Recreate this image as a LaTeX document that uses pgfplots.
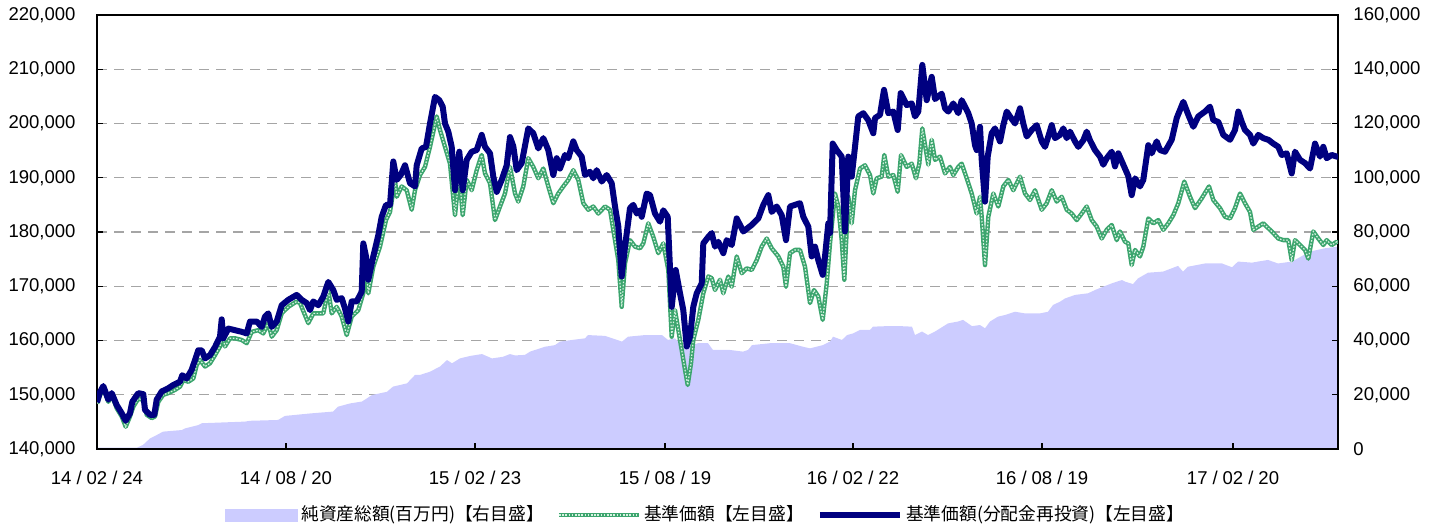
\documentclass[border=0pt]{standalone}
\usepackage{pgfplots}
\pgfplotsset{compat=1.18}
\usepackage{pgfplotstable}
\usepackage{fontspec}
\setmainfont{Liberation Sans}
\newfontfamily\cjk{Noto Sans CJK JP}
\definecolor{navyb}{RGB}{0,0,128}
\definecolor{lav}{RGB}{204,204,255}
\definecolor{grn}{RGB}{60,165,110}
\definecolor{grnin}{RGB}{215,242,225}
\definecolor{gridc}{RGB}{165,165,165}
\newcommand\dl[3]{#1\kern2.5bp/\kern2.5bp#2\kern2.5bp/\kern2.5bp#3}

% x = trading-chart position (ticks at 0,189,378,568,756,945,1136), values in thousand yen
\pgfplotstableread[row sep=\\]{
x v\\
0 148.6\\ 3 150.5\\ 6.3 151.6\\ 11.3 149.1\\ 14.7 150.3\\ 19.7 148.1\\ 24.7 146.6\\ 28.7 145.2\\ 33 146.6\\ 35.3 148.7\\ 41.3 150.3\\ 46.3 150.1\\ 48 147.2\\ 53 146.3\\ 57.3 146.3\\ 59.7 149.1\\ 64.7 150.6\\ 71.3 151.2\\ 76.3 151.8\\ 83 152.4\\ 85.3 153.6\\ 89.7 153.0\\ 94.7 154.6\\ 98 156.4\\ 101.3 158.2\\ 104.7 158.2\\ 108 156.7\\ 113 157.3\\ 118 158.8\\ 123 160.7\\ 124.7 163.9\\ 126.3 160.4\\ 131.3 162.2\\ 138 161.9\\ 144.7 161.6\\ 149.7 161.3\\ 153 163.5\\ 159.7 163.5\\ 164.7 162.5\\ 168 164.4\\ 171.3 165.0\\ 174.7 162.5\\ 179.7 163.5\\ 184.7 166.5\\ 191.3 167.5\\ 199.7 168.4\\ 204.7 167.5\\ 209.7 166.9\\ 213 165.6\\ 216.3 167.2\\ 221.3 166.5\\ 226.3 168.1\\ 231.3 170.8\\ 236.3 169.3\\ 239.7 167.5\\ 244.7 167.8\\ 248 165.9\\ 251.3 163.5\\ 254.7 167.2\\ 259.7 167.2\\ 264.7 169.0\\ 266.3 177.9\\ 269 175.5\\ 271.3 171.2\\ 276.3 175.5\\ 281.3 179.4\\ 284.7 182.8\\ 289 185.0\\ 293 185.0\\ 296.3 193.0\\ 299.7 189.6\\ 303.7 190.5\\ 308 192.3\\ 313 189.0\\ 318 188.4\\ 319.7 192.3\\ 324.7 195.4\\ 329 195.7\\ 333 200.0\\ 338 204.9\\ 342.3 204.3\\ 345.7 203.1\\ 348 200.0\\ 351.3 198.5\\ 354.7 195.7\\ 358 187.7\\ 362.3 194.8\\ 365.7 187.7\\ 369.7 193.3\\ 374.7 194.8\\ 379.7 195.1\\ 384.7 197.9\\ 388 195.7\\ 393 194.5\\ 396.3 190.2\\ 399.7 187.4\\ 404.7 189.6\\ 409.7 192.3\\ 413 197.5\\ 416.3 195.8\\ 419.7 191.4\\ 424.7 192.7\\ 431.3 199.1\\ 436.3 198.2\\ 441.3 195.4\\ 446.3 197.3\\ 451.3 195.1\\ 456.3 190.5\\ 459.7 193.6\\ 463 191.7\\ 468 194.2\\ 471.3 193.6\\ 476.3 196.7\\ 479.7 195.1\\ 484.7 193.9\\ 488 190.5\\ 493 191.1\\ 496.3 189.9\\ 499.7 191.4\\ 504.7 189.3\\ 509.7 190.5\\ 514.7 189.0\\ 518 184.7\\ 521.3 181.0\\ 524.7 171.8\\ 528 177.3\\ 533 184.4\\ 536.3 185.0\\ 539.7 183.4\\ 543 184.0\\ 544.7 182.8\\ 549.7 187.1\\ 553 186.8\\ 558 183.4\\ 563 181.9\\ 566.3 184.0\\ 570.7 182.8\\ 574.7 166.2\\ 578.7 173.0\\ 583 168.7\\ 586.3 165.6\\ 589.7 158.9\\ 593 160.7\\ 596.3 166.2\\ 599.7 168.7\\ 604.7 170.5\\ 606.3 177.9\\ 611.3 179.1\\ 614.7 179.8\\ 618 177.3\\ 621.3 178.2\\ 626.3 176.1\\ 629.7 178.5\\ 634.7 177.6\\ 639.7 182.5\\ 646.3 180.1\\ 654.7 181.3\\ 661.3 182.5\\ 666.3 185.0\\ 671.3 186.8\\ 674.7 183.7\\ 679.7 184.7\\ 684.7 183.1\\ 689 178.5\\ 693 184.7\\ 698 185.0\\ 703 185.3\\ 706.3 182.8\\ 711.3 181.0\\ 714.7 175.5\\ 718 177.3\\ 721.3 174.8\\ 725.7 172.1\\ 728 175.5\\ 731.3 181.6\\ 733 179.8\\ 735.7 196.3\\ 739.7 195.1\\ 744.7 193.9\\ 748 180.1\\ 751.3 193.9\\ 754.7 190.2\\ 758 195.7\\ 761.3 201.3\\ 766.3 201.9\\ 771.3 200.6\\ 776.3 198.2\\ 778 201.0\\ 783 201.6\\ 787 206.2\\ 791.3 201.9\\ 796.3 202.2\\ 800.7 198.8\\ 803.7 205.6\\ 809.7 203.4\\ 814.7 203.7\\ 818 201.3\\ 821.3 202.2\\ 825.3 210.8\\ 829.7 204.3\\ 834.7 208.6\\ 838 204.5\\ 844.7 205.5\\ 848 202.8\\ 851.3 202.2\\ 856.3 203.7\\ 861.3 201.9\\ 864.7 204.3\\ 871.3 201.9\\ 874.7 200.0\\ 878 196.0\\ 879.7 195.1\\ 883 199.4\\ 884.7 193.3\\ 888 185.6\\ 890.7 193.9\\ 894.7 198.2\\ 898 199.1\\ 903 196.7\\ 906.3 199.7\\ 909.7 202.2\\ 913 201.3\\ 918 200.0\\ 923 202.8\\ 926.3 200.0\\ 929.7 197.6\\ 934.7 198.8\\ 939.7 199.7\\ 944.7 196.7\\ 948 195.7\\ 951.3 197.6\\ 954.7 199.7\\ 958 197.3\\ 963 197.9\\ 966.3 199.1\\ 969.7 197.3\\ 973 198.5\\ 978 196.7\\ 981.3 195.7\\ 986.3 196.9\\ 989.7 198.5\\ 993 196.9\\ 998 195.1\\ 1003 193.9\\ 1006.3 192.4\\ 1009.7 193.6\\ 1014.7 194.8\\ 1018 192.1\\ 1021.3 194.5\\ 1026.3 192.4\\ 1031.3 190.3\\ 1034.7 186.8\\ 1038 189.9\\ 1043 188.4\\ 1046.3 189.6\\ 1051.3 196.0\\ 1054.7 194.5\\ 1059.7 196.7\\ 1063 195.1\\ 1068 194.8\\ 1074.7 197.0\\ 1079.7 201.0\\ 1086.3 204.0\\ 1091.3 201.6\\ 1096.3 199.4\\ 1101.3 201.3\\ 1108 202.2\\ 1113 203.1\\ 1116.3 200.6\\ 1121.3 200.3\\ 1126.3 197.9\\ 1133 197.0\\ 1138 198.8\\ 1141.3 202.2\\ 1144.7 200.3\\ 1148 198.8\\ 1153 197.9\\ 1156.3 196.3\\ 1161.3 197.9\\ 1166.3 197.3\\ 1171.3 197.0\\ 1176.3 196.3\\ 1181.3 195.7\\ 1184.7 194.2\\ 1189.7 194.5\\ 1194.7 190.8\\ 1198 194.8\\ 1203 193.3\\ 1208 192.7\\ 1213 191.7\\ 1218 196.3\\ 1223 193.9\\ 1226.3 195.7\\ 1229.7 193.6\\ 1234.7 194.2\\ 1239.7 193.9\\ 1241 193.9\\
}\bluedata

\pgfplotstableread[row sep=\\]{
x v\\
0 148.4\\ 6.3 151.5\\ 11.3 148.7\\ 14.7 150.0\\ 19.7 147.5\\ 24.7 146.0\\ 28.7 144.1\\ 33 146.0\\ 36.3 147.8\\ 41.3 149.3\\ 46.3 149.0\\ 49.7 146.3\\ 54.7 145.7\\ 58 146.0\\ 61.3 148.7\\ 66.3 150.0\\ 71.3 150.3\\ 78 150.9\\ 83 151.5\\ 86.3 152.7\\ 91.3 152.4\\ 96.3 153.0\\ 99.7 155.5\\ 103 156.4\\ 108 155.2\\ 113 155.8\\ 118 157.3\\ 123 158.9\\ 125.3 161.0\\ 128 158.9\\ 133 160.4\\ 138 160.4\\ 144.7 160.1\\ 149.7 159.5\\ 154.7 161.6\\ 161.3 161.9\\ 166.3 161.3\\ 171.3 163.2\\ 174.7 160.7\\ 179.7 161.9\\ 184.7 165.0\\ 191.3 166.2\\ 199.7 167.2\\ 203 166.9\\ 211.3 163.2\\ 216.3 165.0\\ 226.3 165.0\\ 231.3 169.3\\ 234.7 165.0\\ 239.7 166.2\\ 244.7 164.4\\ 249.7 161.0\\ 254.7 164.4\\ 261.3 165.6\\ 266.3 168.7\\ 269 173.6\\ 271.3 168.7\\ 276.3 173.6\\ 283 177.3\\ 289 182.2\\ 293 183.7\\ 298 189.6\\ 299.7 186.5\\ 304.7 188.4\\ 309.7 187.7\\ 314.7 184.1\\ 318 187.7\\ 323 190.5\\ 328 192.0\\ 333 195.7\\ 339.7 201.3\\ 343 198.8\\ 348 195.7\\ 353 192.6\\ 358 183.1\\ 362.3 190.8\\ 365.7 183.1\\ 369.7 189.6\\ 374.7 187.7\\ 379.7 191.4\\ 384.7 194.2\\ 388 190.8\\ 393 189.0\\ 398 182.2\\ 403 184.7\\ 408 187.1\\ 413 192.0\\ 418 187.1\\ 421.3 185.6\\ 426.3 188.4\\ 431.3 193.6\\ 436.3 192.0\\ 441.3 189.9\\ 446.3 191.7\\ 451.3 188.4\\ 456.3 185.3\\ 461.3 187.1\\ 466.3 188.4\\ 471.3 189.6\\ 476.3 191.4\\ 481.3 189.6\\ 486.3 185.3\\ 491.3 184.1\\ 496.3 184.7\\ 501.3 183.4\\ 508 184.7\\ 513 184.1\\ 516.3 180.4\\ 521.3 174.8\\ 524.7 166.2\\ 528 174.2\\ 533 178.5\\ 538 177.3\\ 543 177.0\\ 546.3 177.9\\ 551.3 181.6\\ 556.3 179.1\\ 561.3 176.1\\ 566.3 177.9\\ 571.3 173.0\\ 574.7 160.7\\ 578 165.6\\ 583 160.1\\ 588 154.6\\ 590.7 151.8\\ 594 155.8\\ 596.3 160.1\\ 601.3 163.8\\ 606.3 168.7\\ 611.3 171.8\\ 614.7 171.5\\ 618 169.3\\ 623 171.2\\ 626.3 168.7\\ 631.3 171.8\\ 634.7 169.9\\ 639.7 175.5\\ 644.7 172.4\\ 649.7 173.3\\ 654.7 173.0\\ 659.7 174.8\\ 664.7 177.3\\ 669.7 178.8\\ 674.7 177.0\\ 681.3 175.5\\ 686.3 173.6\\ 689 169.9\\ 693 176.1\\ 698 176.7\\ 703 176.7\\ 708 173.6\\ 713 166.9\\ 717 169.3\\ 721.3 168.1\\ 725.7 163.8\\ 729.7 170.5\\ 733 177.9\\ 738 187.1\\ 741.3 184.7\\ 744.7 178.5\\ 747.3 171.2\\ 751.3 186.5\\ 754.7 181.6\\ 758 187.7\\ 763 191.7\\ 768 192.3\\ 773 190.5\\ 776.3 187.1\\ 779.7 189.9\\ 784.7 190.2\\ 787.3 194.2\\ 791.3 190.2\\ 796.3 190.5\\ 800.7 187.4\\ 804 194.2\\ 809.7 192.0\\ 814.7 192.6\\ 819 189.9\\ 822.3 192.6\\ 825.3 199.1\\ 831.3 192.4\\ 834.7 197.0\\ 838 193.3\\ 843 193.9\\ 848 190.8\\ 853 192.0\\ 856.3 190.5\\ 861.3 192.0\\ 864.7 192.6\\ 869.7 189.9\\ 874.7 187.1\\ 879.7 183.4\\ 883 186.5\\ 884.7 182.8\\ 888 173.9\\ 891.3 182.8\\ 896.3 187.1\\ 901.3 184.7\\ 906.3 188.4\\ 911.3 189.6\\ 916.3 187.7\\ 923 190.2\\ 928 187.1\\ 933 185.9\\ 938 187.7\\ 944.7 184.1\\ 949.7 185.3\\ 954.7 187.7\\ 959.7 185.6\\ 964.7 186.5\\ 969.7 184.1\\ 974.7 183.4\\ 979.7 182.2\\ 984.7 183.4\\ 989.7 184.7\\ 994.7 182.2\\ 999.7 181.0\\ 1004.7 178.8\\ 1009.7 180.4\\ 1014.7 181.3\\ 1019.7 178.5\\ 1023 180.1\\ 1028 178.2\\ 1031.3 177.9\\ 1034.7 173.9\\ 1038 176.7\\ 1043 175.5\\ 1046.3 177.3\\ 1051.3 182.5\\ 1056.3 181.6\\ 1061.3 182.2\\ 1066.3 180.4\\ 1071.3 181.6\\ 1076.3 183.1\\ 1081.3 185.3\\ 1087.3 189.3\\ 1093 186.5\\ 1098 184.4\\ 1104.7 186.2\\ 1112 188.4\\ 1116.3 185.9\\ 1123 184.4\\ 1128 182.8\\ 1133 182.5\\ 1138 184.4\\ 1143 187.1\\ 1148 185.3\\ 1153 183.7\\ 1156.3 180.4\\ 1161.3 181.0\\ 1166.3 181.6\\ 1171.3 180.7\\ 1176.3 179.8\\ 1181.3 178.8\\ 1186.3 178.5\\ 1191.3 178.5\\ 1194.7 174.8\\ 1198 178.5\\ 1203 177.6\\ 1208 176.7\\ 1211.3 175.1\\ 1216.3 180.1\\ 1221.3 178.8\\ 1226.3 177.6\\ 1229.7 178.5\\ 1234.7 177.6\\ 1239.7 178.2\\ 1241 177.9\\
}\greendata

\pgfplotstableread[row sep=\\]{
x v\\
0 0.5\\ 40 0.5\\ 46 1.5\\ 53 3.9\\ 60 5.2\\ 66 6.4\\ 85 7.0\\ 88 7.6\\ 101 8.8\\ 105 9.5\\ 148 10.1\\ 153 10.4\\ 181 10.7\\ 188 12.2\\ 213 13.1\\ 236 13.8\\ 241 15.6\\ 253 16.8\\ 265 17.5\\ 275 19.9\\ 290 21.1\\ 296 23.0\\ 310 24.2\\ 318 27.3\\ 323 27.3\\ 333 28.5\\ 343 30.4\\ 350 32.8\\ 355 31.6\\ 363 33.4\\ 373 34.3\\ 385 35.0\\ 395 33.4\\ 406 34.0\\ 413 35.0\\ 418 34.5\\ 428 34.7\\ 433 35.9\\ 448 37.7\\ 458 38.3\\ 463 39.6\\ 475 40.2\\ 488 40.8\\ 491 42.0\\ 508 41.7\\ 525 39.6\\ 531 41.4\\ 548 42.0\\ 565 42.0\\ 571 40.2\\ 578 40.8\\ 585 38.3\\ 591 37.7\\ 601 39.0\\ 611 39.0\\ 616 36.5\\ 633 36.5\\ 646 35.9\\ 651 36.5\\ 655 38.3\\ 673 39.0\\ 693 39.0\\ 706 37.7\\ 713 37.1\\ 726 38.3\\ 733 39.6\\ 736 41.4\\ 745 40.2\\ 750 42.0\\ 756 42.6\\ 763 43.9\\ 773 43.9\\ 776 45.1\\ 790 45.3\\ 803 45.3\\ 815 45.1\\ 818 42.0\\ 825 43.3\\ 831 42.0\\ 838 43.3\\ 851 46.3\\ 861 47.0\\ 866 47.6\\ 875 45.3\\ 883 45.7\\ 888 44.5\\ 893 47.0\\ 901 48.8\\ 908 49.4\\ 918 50.6\\ 928 50.0\\ 943 50.0\\ 951 50.6\\ 956 53.1\\ 963 54.3\\ 968 55.5\\ 978 56.8\\ 991 57.4\\ 998 58.6\\ 1006 59.8\\ 1015 61.1\\ 1025 62.3\\ 1028 61.7\\ 1036 60.8\\ 1041 62.9\\ 1051 65.0\\ 1066 65.4\\ 1081 67.5\\ 1086 65.4\\ 1091 67.2\\ 1108 68.4\\ 1125 68.4\\ 1135 67.0\\ 1141 69.1\\ 1155 68.7\\ 1161 69.1\\ 1171 69.7\\ 1181 68.4\\ 1195 69.1\\ 1213 72.8\\ 1228 74.0\\ 1241 74.6\\
}\areadata

\begin{document}
\begin{tikzpicture}
\path[use as bounding box] (-48.5bp,-39.5bp) rectangle (669bp,224.5bp);
% background axis: grid, area, right-hand labels
\begin{axis}[
  scale only axis, width=620.5bp, height=217bp,
  xmin=0, xmax=1241, ymin=0, ymax=160,
  xtick=\empty,
  ytick={0,20,40,60,80,100,120,140,160},
  yticklabels={0,{20,000},{40,000},{60,000},{80,000},{100,000},{120,000},{140,000},{160,000}},
  ytick pos=right, yticklabel pos=right,
  major tick length=0pt,
  axis line style={draw=none},
  ymajorgrids,
  grid style={gridc, line width=0.7bp, dash pattern=on 5bp off 3.5bp},
  yticklabel style={font=\fontsize{9.3}{11}\selectfont, xshift=4.2bp},
]
\addplot[fill=lav, draw=none] table[x=x,y=v]{\areadata} \closedcycle;
\end{axis}
% foreground axis: lines, box, left labels
\begin{axis}[
  scale only axis, width=620.5bp, height=217bp,
  xmin=0, xmax=1241, ymin=140, ymax=220,
  ytick={140,150,160,170,180,190,200,210,220},
  yticklabels={{140,000},{150,000},{160,000},{170,000},{180,000},{190,000},{200,000},{210,000},{220,000}},
  ytick pos=both, yticklabel pos=left,
  xtick={0,189,378,568,756,945,1136},
  xticklabels={\dl{14}{02}{24},\dl{14}{08}{20},\dl{15}{02}{23},\dl{15}{08}{19},\dl{16}{02}{22},\dl{16}{08}{19},\dl{17}{02}{20}},
  xtick pos=left,
  tick align=inside, major tick length=2.8bp,
  tick style={black, line width=0.7bp},
  axis line style={black, line width=0.8bp},
  yticklabel style={font=\fontsize{9.3}{11}\selectfont, xshift=-7.2bp},
  xticklabel style={font=\fontsize{9.3}{11}\selectfont, yshift=-7.6bp},
  legend columns=3,
  legend style={at={(0.491,-0.152)}, anchor=center, draw=none, fill=none,
    font=\cjk\fontsize{8.9}{11}\selectfont, inner sep=0pt,
    /tikz/every even column/.append style={column sep=5bp},
    nodes={inner sep=1.5bp}},
]
\addlegendimage{legend image code/.code={\fill[lav] (0bp,-3bp) rectangle (36bp,3bp);}}
\addlegendentry{純資産総額(百万円)【右目盛】}
\addplot[grn, line width=2.2bp, line join=round,
  legend image code/.code={\draw[grn, line width=2.2bp] (0bp,0bp) -- (40bp,0bp);
    \draw[grnin, line width=0.6bp, dash pattern=on 0.8bp off 0.8bp] (0bp,0bp) -- (40bp,0bp);}]
  table[x=x,y=v]{\greendata};
\addlegendentry{基準価額【左目盛】}
\addplot[grnin, line width=0.6bp, dash pattern=on 0.8bp off 0.8bp, forget plot]
  table[x=x,y=v]{\greendata};
\addplot[navyb, line width=3bp, line join=round,
  legend image code/.code={\draw[navyb, line width=3.2bp] (0bp,0bp) -- (40bp,0bp);}]
  table[x=x,y=v]{\bluedata};
\addlegendentry{基準価額(分配金再投資)【左目盛】}
\end{axis}
\end{tikzpicture}
\end{document}
